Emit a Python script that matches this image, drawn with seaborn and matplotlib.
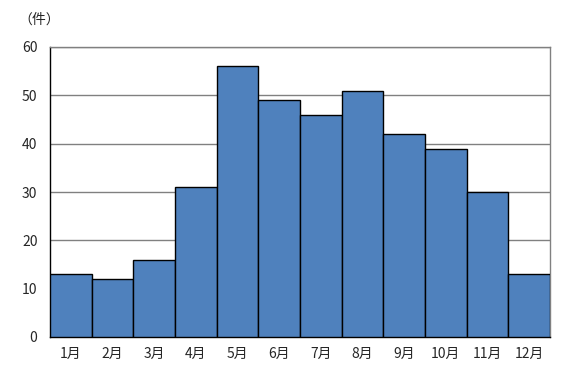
import matplotlib
matplotlib.use("Agg")
import matplotlib.pyplot as plt
import seaborn as sns
import pandas as pd

months = ["1月", "2月", "3月", "4月", "5月", "6月", "7月", "8月", "9月", "10月", "11月", "12月"]
counts = [13, 12, 16, 31, 56, 49, 46, 51, 42, 39, 30, 13]
yticks = [0, 10, 20, 30, 40, 50, 60]

sns.set_style("white")
plt.rcParams['font.family'] = ['Noto Sans CJK JP', 'DejaVu Sans']

df = pd.DataFrame({"month": months, "count": counts})

fig = plt.figure(figsize=(5.69, 3.80), dpi=100)
ax = fig.add_axes([50/569, 1-337/380, 500/569, 290/380])

sns.barplot(data=df, x="month", y="count", color="#4F81BD", width=1.0,
            edgecolor="black", linewidth=1.0, saturation=1, ax=ax, zorder=3)

ax.set_ylim(0, 60)
ax.set_xlim(-0.5, 11.5)
ax.set_yticks(yticks)
ax.set_yticklabels([str(v) for v in yticks], fontsize=10)
ax.tick_params(axis='y', direction='in', length=4, width=1, color='black', pad=9)
ax.tick_params(axis='x', length=0, pad=7, labelsize=10)
ax.set_xlabel("")
ax.set_ylabel("")
ax.yaxis.grid(True, color="#808080", linewidth=1, zorder=0)
ax.set_axisbelow(True)
for s in ["top", "right"]:
    ax.spines[s].set_color("#808080")
    ax.spines[s].set_linewidth(1)
for s in ["left", "bottom"]:
    ax.spines[s].set_color("black")
    ax.spines[s].set_linewidth(1)

fig.text(18/569, 1-20/380, "（件）", fontsize=10, va="center", ha="left")

fig.savefig("out.png", dpi=100)
